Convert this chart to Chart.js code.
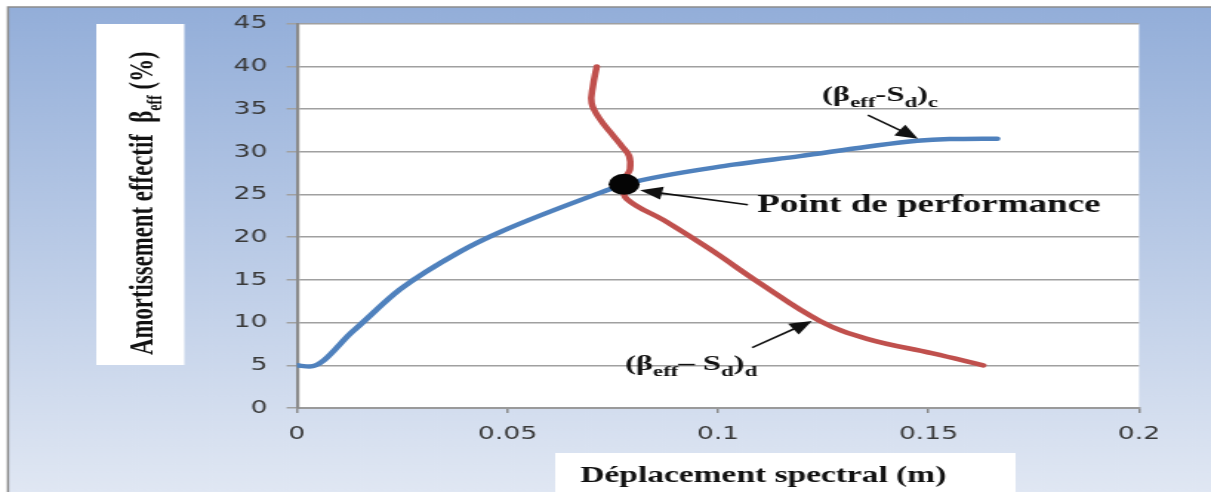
<!DOCTYPE html>
<html lang="fr">
<head>
<meta charset="UTF-8">
<title>Amortissement effectif - Déplacement spectral</title>
<script src="https://cdn.jsdelivr.net/npm/chart.js"></script>
<style>
  html, body { margin: 0; padding: 0; background: #fff; overflow: hidden; }
  /* the chart is laid out narrow and stretched sideways, like the Excel export */
  #wrap { width: 818px; height: 492px; transform: scaleX(1.4804); transform-origin: 0 0; }
</style>
</head>
<body>
<div id="wrap"><canvas id="perfChart" width="818" height="492"></canvas></div>
<script>
// capacity curve (beta_eff - Sd)_c
const capaSd   = [0, 0.003, 0.0133, 0.0245, 0.0387, 0.0482, 0.0736, 0.0777, 0.1036, 0.1195, 0.1354, 0.1473, 0.155, 0.1663];
const capaBeta = [5, 4.85, 9.0, 13.9, 18.3, 20.6, 25.5, 26.2, 28.5, 29.5, 30.6, 31.3, 31.5, 31.55];

// demand curve (beta_eff - Sd)_d
const demSd   = [0.0712, 0.0703, 0.0700, 0.0720, 0.0751, 0.0771, 0.0789, 0.0791, 0.0783, 0.0777, 0.0783, 0.0878, 0.0981, 0.1100, 0.1242, 0.1354, 0.151, 0.163];
const demBeta = [40, 37.7, 35.7, 33.8, 31.9, 30.7, 29.5, 28.0, 27.2, 26.2, 24.5, 21.8, 18.6, 14.6, 10.2, 8.1, 6.4, 5.0];

// performance point
const perfSd   = [0.0777];
const perfBeta = [26.2];

const xTickLabels = ['0', '0.05', '0.1', '0.15', '0.2'];
const yTicks = [0, 5, 10, 15, 20, 25, 30, 35, 40, 45];

const serif = '"Liberation Serif", "Times New Roman", serif';

const pts = (xs, ys) => xs.map((v, i) => ({ x: v, y: ys[i] }));

// draws a string made of normal and subscript pieces, returns end x
function richText(ctx, x, y, parts, size, subSize) {
  let cx = x;
  parts.forEach(([t, sub]) => {
    ctx.font = `bold ${sub ? subSize : size}px ${serif}`;
    ctx.fillText(t, cx, y + (sub ? size * 0.27 : 0));
    cx += ctx.measureText(t).width;
  });
  return cx;
}

function arrow(ctx, x0, y0, x1, y1) {
  const ang = Math.atan2(y1 - y0, x1 - x0);
  const len = 15, hw = 6.5;
  const c = Math.cos(ang), s = Math.sin(ang);
  ctx.lineWidth = 1.6;
  ctx.beginPath();
  ctx.moveTo(x0, y0);
  ctx.lineTo(x1 - c * len * 0.8, y1 - s * len * 0.8);
  ctx.stroke();
  ctx.beginPath();
  ctx.moveTo(x1, y1);
  ctx.lineTo(x1 - c * len + s * hw, y1 - s * len - c * hw);
  ctx.lineTo(x1 - c * len - s * hw, y1 - s * len + c * hw);
  ctx.closePath();
  ctx.fill();
}

// labels and arrows, anchored in data units
const notes = [
  { text: [['(β'], ['eff', true], ['-S'], ['d', true], [')'], ['c', true]], at: [0.1247, 36.0], size: 22, sub: 15.5,
    from: [0.1356, 34.3], to: [0.1475, 31.55] },
  { text: [['Point de performance']], at: [0.1093, 23.0], size: 25, sub: 16,
    from: [0.1071, 23.8], to: [0.0815, 25.5] },
  { text: [['(β'], ['eff', true], ['– S'], ['d', true], [')'], ['d', true]], at: [0.0779, 4.4], size: 22, sub: 15.5,
    from: [0.1081, 7.07], to: [0.1223, 10.2] }
];

const backdrop = {
  id: 'backdrop',
  beforeDraw(chart) {
    const { ctx, width, height, chartArea: a } = chart;
    ctx.save();
    ctx.fillStyle = '#fff';
    ctx.fillRect(0, 0, width, height);
    const g = ctx.createLinearGradient(0, 7, 0, height);
    g.addColorStop(0, '#93aed9');
    g.addColorStop(1, '#e0e7f3');
    ctx.fillStyle = g;
    ctx.fillRect(5.4, 7, width, height);
    ctx.strokeStyle = '#8c8c8c';
    ctx.lineWidth = 1.5;
    ctx.beginPath();
    ctx.moveTo(5.4, height);
    ctx.lineTo(5.4, 7);
    ctx.lineTo(width, 7);
    ctx.stroke();
    ctx.fillStyle = '#fff';
    ctx.fillRect(a.left, a.top, a.right - a.left, a.bottom - a.top);
    // boxes behind the axis titles
    ctx.fillRect(65, 24, 59.5, 341);
    ctx.fillRect(375, 453, 311, height - 453);
    ctx.restore();
  },
  afterDraw(chart) {
    const ctx = chart.ctx;
    ctx.save();
    ctx.fillStyle = '#111';
    ctx.textBaseline = 'alphabetic';
    ctx.textAlign = 'left';
    richText(ctx, 392, 482, [['Déplacement spectral (m)']], 22.6, 14);
    ctx.translate(102.7, 355);
    ctx.rotate(-Math.PI / 2);
    richText(ctx, 0, 0, [['Amortissement effectif  β'], ['eff', true], [' (%)']], 22.8, 14);
    ctx.restore();
  }
};

const annotations = {
  id: 'annotations',
  afterDatasetsDraw(chart) {
    const { ctx, scales: { x, y } } = chart;
    ctx.save();
    ctx.fillStyle = '#111';
    ctx.strokeStyle = '#111';
    ctx.textBaseline = 'alphabetic';
    ctx.textAlign = 'left';
    notes.forEach(n => {
      arrow(ctx, x.getPixelForValue(n.from[0]), y.getPixelForValue(n.from[1]),
                 x.getPixelForValue(n.to[0]), y.getPixelForValue(n.to[1]));
      richText(ctx, x.getPixelForValue(n.at[0]), y.getPixelForValue(n.at[1]), n.text, n.size, n.sub);
    });
    ctx.restore();
  }
};

new Chart(document.getElementById('perfChart'), {
  type: 'line',
  data: {
    datasets: [
      {
        label: 'Point de performance',
        data: pts(perfSd, perfBeta),
        showLine: false,
        pointRadius: 10.5,
        pointBackgroundColor: '#050505',
        pointBorderWidth: 0
      },
      {
        label: '(βeff-Sd)c',
        data: pts(capaSd, capaBeta),
        borderColor: '#4f81bd',
        borderWidth: 4.5,
        pointRadius: 0,
        cubicInterpolationMode: 'monotone',
        borderCapStyle: 'round'
      },
      {
        label: '(βeff-Sd)d',
        data: pts(demSd, demBeta),
        borderColor: '#c0504d',
        borderWidth: 4.5,
        pointRadius: 0,
        tension: 0.4,
        borderCapStyle: 'round'
      }
    ]
  },
  options: {
    responsive: false,
    animation: false,
    layout: { padding: { left: 0, right: 48.6, top: 17, bottom: 0 } },
    plugins: { legend: { display: false }, tooltip: { enabled: false } },
    scales: {
      x: {
        type: 'linear',
        min: 0,
        max: 0.2,
        afterBuildTicks: s => { s.ticks = xTickLabels.map((t, i) => ({ value: i * 0.05 })); },
        ticks: {
          callback: (v, i) => xTickLabels[i],
          color: '#3a3a3a',
          font: { family: '"DejaVu Sans", sans-serif', size: 18 },
          padding: 11,
          maxRotation: 0
        },
        grid: { drawOnChartArea: false, drawTicks: true, tickLength: 5, color: '#8a8a8a', lineWidth: 1.5 },
        border: { color: '#9a9a9a', width: 2 },
        afterFit: s => { s.height = 84; }
      },
      y: {
        min: 0,
        max: 45,
        afterBuildTicks: s => { s.ticks = yTicks.map(v => ({ value: v })); },
        ticks: {
          color: '#3a3a3a',
          font: { family: '"DejaVu Sans", sans-serif', size: 18 },
          padding: 13
        },
        grid: { color: '#a0a0a0', lineWidth: 1.5, tickLength: 7 },
        border: { color: '#8a8a8a', width: 2.2 },
        afterFit: s => { s.width = 200.6; }
      }
    }
  },
  plugins: [backdrop, annotations]
});
</script>
</body>
</html>
